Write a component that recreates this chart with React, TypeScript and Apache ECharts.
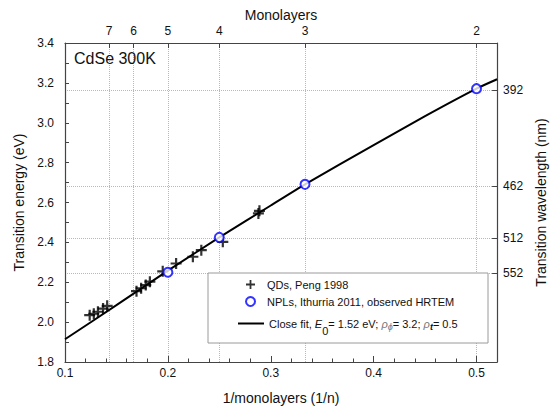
import React, { useEffect, useRef } from 'react';
import * as echarts from 'echarts';

// QDs, Peng 1998 (1/n, eV)
const qdX = [0.124, 0.128, 0.132, 0.137, 0.141, 0.1695, 0.174, 0.1785, 0.1825, 0.195, 0.208, 0.2243, 0.2325, 0.2534, 0.288, 0.289];
const qdE = [2.035, 2.042, 2.052, 2.068, 2.082, 2.155, 2.17, 2.186, 2.203, 2.255, 2.294, 2.328, 2.361, 2.403, 2.545, 2.558];
// NPLs, Ithurria 2011 (1/n, eV)
const nplX = [0.2, 0.25, 0.3333, 0.5];
const nplE = [2.25, 2.425, 2.691, 3.171];
// Close fit curve
const fitX = [0.1, 0.15, 0.2, 0.25, 0.3, 0.3333, 0.4, 0.45, 0.5, 0.52];
const fitE = [1.914, 2.085, 2.258, 2.425, 2.585, 2.691, 2.888, 3.033, 3.171, 3.218];
// Top axis: monolayer counts (placed at 1/n)
const monolayers = [7, 6, 5, 4, 3, 2];
// Right axis: wavelength tick labels (nm)
const wavelengthTicks = [392, 462, 512, 552];

const FONT = '"Liberation Sans", Arial, Helvetica, sans-serif';

export default function App() {
  const ref = useRef<HTMLDivElement>(null);
  useEffect(() => {
    const chart = echarts.init(ref.current!, null, { renderer: 'svg' });
    const monoVals = monolayers.map((n) => 1 / n);
    const wlVals = wavelengthTicks.map((w) => 1240 / w);
    const crossPath = 'path://M0,4H10V6H0Z M4,0H6V10H4Z';
    const axisColor = '#444';
    const txt = '#111';
    const grid = { type: 'dotted', color: '#b8b8b8', width: 1 };

    chart.setOption({
      animation: false,
      backgroundColor: '#fff',
      textStyle: { fontFamily: FONT },
      grid: { left: 65, right: 58, top: 43, bottom: 50 },
      xAxis: [
        {
          type: 'value',
          position: 'bottom',
          min: 0.1,
          max: 0.52,
          interval: 0.1,
          name: '1/monolayers (1/n)',
          nameLocation: 'middle',
          nameGap: 29,
          nameTextStyle: { fontSize: 14, color: txt, fontFamily: FONT },
          axisLine: { lineStyle: { color: axisColor, width: 1.2 } },
          axisTick: { inside: true, length: 6, lineStyle: { color: axisColor } },
          minorTick: { show: true, splitNumber: 5, length: 3.5, lineStyle: { color: axisColor } },
          axisLabel: { fontSize: 12, color: txt, margin: 5, showMaxLabel: false, formatter: (v: number) => v.toFixed(1) },
          splitLine: { show: false },
        },
        {
          type: 'value',
          position: 'top',
          min: 0.1,
          max: 0.52,
          name: 'Monolayers',
          nameLocation: 'middle',
          nameGap: 21,
          nameMoveOverlap: false,
          nameTextStyle: { fontSize: 14, color: txt, fontFamily: FONT },
          axisLine: { lineStyle: { color: axisColor, width: 1.2 } },
          axisTick: { inside: true, length: 5, customValues: monoVals, lineStyle: { color: axisColor } },
          axisLabel: { fontSize: 12, color: txt, margin: 6, customValues: monoVals, formatter: (v: number) => String(Math.round(1 / v)) },
          splitLine: { show: true, lineStyle: grid },
        },
      ],
      yAxis: [
        {
          type: 'value',
          position: 'left',
          min: 1.8,
          max: 3.4,
          interval: 0.2,
          name: 'Transition energy (eV)',
          nameLocation: 'middle',
          nameGap: 32,
          nameTextStyle: { fontSize: 14, color: txt, fontFamily: FONT },
          axisLine: { show: true, lineStyle: { color: axisColor, width: 1.2 } },
          axisTick: { show: true, inside: true, length: 4, lineStyle: { color: axisColor } },
          minorTick: { show: true, splitNumber: 2, length: 4, lineStyle: { color: axisColor } },
          axisLabel: { fontSize: 12, color: txt, margin: 11, formatter: (v: number) => v.toFixed(1) },
          splitLine: { show: false },
        },
        {
          type: 'value',
          position: 'right',
          min: 1.8,
          max: 3.4,
          name: 'Transition wavelength (nm)',
          nameLocation: 'middle',
          nameRotate: 90,
          nameGap: 36,
          nameTextStyle: { fontSize: 14, color: txt, fontFamily: FONT },
          axisLine: { show: true, lineStyle: { color: axisColor, width: 1.2 } },
          axisTick: { show: true, inside: true, length: 5, customValues: wlVals, lineStyle: { color: axisColor } },
          axisLabel: { fontSize: 12, color: txt, margin: 6, customValues: wlVals, formatter: (v: number) => String(Math.round(1240 / v)) },
          splitLine: { show: true, lineStyle: grid },
        },
      ],
      legend: [
        {
          data: [
            { name: 'QDs, Peng 1998' },
            { name: 'NPLs, Ithurria 2011, observed HRTEM', itemStyle: { borderWidth: 1.6 } },
          ],
          orient: 'vertical',
          left: 245,
          top: 279,
          itemWidth: 9,
          itemHeight: 9,
          itemGap: 6,
          padding: 0,
          textStyle: { fontSize: 11, color: txt, fontFamily: FONT, padding: [0, 0, 0, 7] },
        },
        {
          data: [{ name: 'Close fit', icon: 'rect', itemStyle: { color: '#000' } }],
          left: 238,
          top: 318,
          itemWidth: 26,
          itemHeight: 2,
          padding: 0,
          formatter: () => 'Close fit, {i|E}{s0|0}= 1.52 eV; {g|ρ}{s1|ϕ}= 3.2; {g|ρ}{s2|t}= 0.5',
          textStyle: {
            fontSize: 11,
            color: txt,
            fontFamily: FONT,
            rich: {
              i: { fontStyle: 'italic', fontSize: 11, color: txt, fontFamily: FONT },
              s0: { fontSize: 11, color: txt, padding: [15, 0, 0, 0], fontFamily: FONT },
              g: { fontStyle: 'italic', fontSize: 11, color: '#777', fontFamily: FONT },
              s1: { fontSize: 9, fontStyle: 'italic', color: '#777', padding: [7, 0, 0, 0], fontFamily: FONT },
              s2: { fontSize: 9, fontStyle: 'italic', fontWeight: 'bold', color: txt, padding: [7, 0, 0, 0], fontFamily: FONT },
            },
          },
        },
      ],
      graphic: [
        {
          type: 'rect',
          z: 3,
          shape: { x: 208, y: 273, width: 280, height: 70 },
          style: { fill: '#fff', stroke: '#9a9a9a', lineWidth: 1 },
        },
        {
          type: 'text',
          z: 5,
          left: 74,
          top: 50,
          style: { text: 'CdSe 300K', fontSize: 16, fill: txt, fontFamily: FONT },
        },
      ],
      series: [
        {
          name: 'Close fit',
          type: 'line',
          xAxisIndex: 0,
          yAxisIndex: 0,
          data: fitX.map((x, i) => [x, fitE[i]]),
          symbol: 'none',
          showSymbol: false,
          smooth: 0.2,
          lineStyle: { color: '#000', width: 2 },
          itemStyle: { color: '#000' },
          z: 2,
        },
        {
          name: 'QDs, Peng 1998',
          type: 'scatter',
          xAxisIndex: 0,
          yAxisIndex: 0,
          data: qdX.map((x, i) => [x, qdE[i]]),
          symbol: crossPath,
          symbolSize: 11,
          itemStyle: { color: '#000' },
          z: 3,
        },
        {
          name: 'NPLs, Ithurria 2011, observed HRTEM',
          type: 'scatter',
          xAxisIndex: 0,
          yAxisIndex: 0,
          data: nplX.map((x, i) => [x, nplE[i]]),
          symbol: 'emptyCircle',
          symbolSize: 9,
          itemStyle: { color: '#0000ff', borderColor: '#0000ff', borderWidth: 1.8 },
          z: 4,
        },
      ],
    });
    return () => chart.dispose();
  }, []);
  return (
    <div
      ref={ref}
      style={{ position: 'fixed', left: 0, top: 0, width: 556, height: 412, background: '#fff' }}
    />
  );
}
